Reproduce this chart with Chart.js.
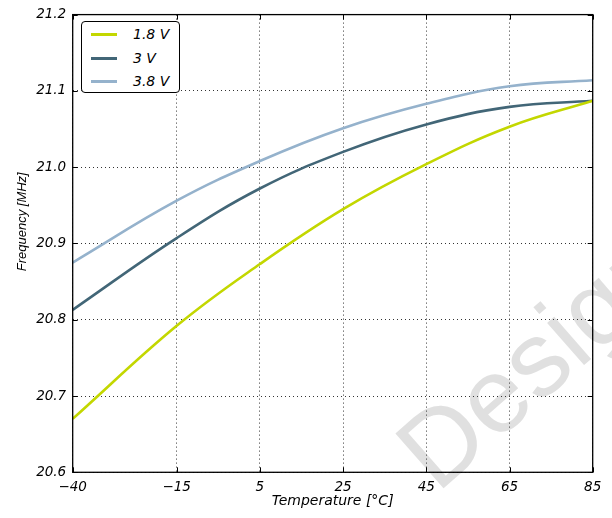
<!DOCTYPE html>
<html>
<head>
<meta charset="utf-8">
<script src="https://cdn.jsdelivr.net/npm/chart.js@4.4.0/dist/chart.umd.min.js"></script>
<style>
body { margin: 0; background: #fff; }
#wrap { position: relative; width: 612px; height: 518px; }
#legende { position: absolute; left: 81px; top: 21px; width: 97px; height: 70px;
  border: 1px solid #000; border-radius: 4px; background: #fff;
  font: italic 14px "DejaVu Sans", sans-serif; color: #000; }
#legende .trait { position: absolute; left: 9px; width: 26px; height: 3px; }
#legende .nom { position: absolute; left: 51px; line-height: 16px; }
</style>
</head>
<body>
<div id="wrap">
  <canvas id="graph" width="612" height="518"></canvas>
  <div id="legende"></div>
</div>
<script>
// valeurs
const temperatures = [-40, -15, 5, 25, 45, 65, 85];
const freq18 = [20.670, 20.792, 20.873, 20.945, 21.004, 21.053, 21.087];
const freq30 = [20.813, 20.907, 20.972, 21.020, 21.056, 21.079, 21.087];
const freq38 = [20.875, 20.956, 21.008, 21.051, 21.083, 21.106, 21.114];
const noms = ['1.8 V', '3 V', '3.8 V'];
const couleurs = ['#c3d700', '#426677', '#95b2cc'];
const xTicks = [-40, -15, 5, 25, 45, 65, 85];
const yTicks = [20.6, 20.7, 20.8, 20.9, 21.0, 21.1, 21.2];

const series = [freq18, freq30, freq38];
const datasets = [];
for (let i = 0; i < series.length; i++) {
    datasets.push({
        label: noms[i],
        data: temperatures.map((t, k) => ({x: t, y: series[i][k]})),
        borderColor: couleurs[i],
        borderWidth: 2.6,
        pointRadius: 0,
        fill: false,
        tension: 0.4
    });
}

// legende en html, dans le cadre en haut a gauche
const legende = document.getElementById('legende');
noms.forEach(function(nom, i) {
    const trait = document.createElement('div');
    trait.className = 'trait';
    trait.style.top = (11 + i * 23.5) + 'px';
    trait.style.background = couleurs[i];
    legende.appendChild(trait);
    const txt = document.createElement('div');
    txt.className = 'nom';
    txt.style.top = (4 + i * 23.5) + 'px';
    txt.textContent = nom;
    legende.appendChild(txt);
});

// cadre + petites graduations vers l'interieur (style matplotlib)
const cadre = {
    id: 'cadre',
    beforeDraw(chart) {
        // filigrane gris, derriere tout le reste
        const ctx = chart.ctx;
        ctx.save();
        ctx.translate(437, 494);
        ctx.rotate(-0.72);
        ctx.font = '106px "Liberation Sans"';
        ctx.fillStyle = '#e0e0e0';
        ctx.fillText('Design', 0, 0);
        ctx.restore();
    },
    afterDraw(chart) {
        const a = chart.chartArea;
        const ctx = chart.ctx;
        const sx = chart.scales.x, sy = chart.scales.y;
        ctx.save();
        ctx.strokeStyle = '#000';
        ctx.lineWidth = 1;
        ctx.beginPath();
        xTicks.forEach(function(v) {
            const px = Math.round(sx.getPixelForValue(v)) + 0.5;
            ctx.moveTo(px, a.bottom); ctx.lineTo(px, a.bottom - 5);
            ctx.moveTo(px, a.top); ctx.lineTo(px, a.top + 5);
        });
        yTicks.forEach(function(v) {
            const py = Math.round(sy.getPixelForValue(v)) + 0.5;
            ctx.moveTo(a.left, py); ctx.lineTo(a.left + 5, py);
            ctx.moveTo(a.right, py); ctx.lineTo(a.right - 5, py);
        });
        ctx.stroke();
        ctx.lineWidth = 1.3;
        ctx.strokeRect(a.left, a.top, a.right - a.left, a.bottom - a.top);
        ctx.restore();
    }
};

const police = {family: '"DejaVu Sans"', size: 13.5, style: 'italic'};

new Chart(document.getElementById('graph'), {
    type: 'line',
    data: {datasets: datasets},
    options: {
        responsive: false,
        animation: false,
        layout: {padding: {top: 12.7, right: 19.3, bottom: 0, left: 0}},
        plugins: {legend: {display: false}, tooltip: {enabled: false}},
        scales: {
            x: {
                type: 'linear',
                min: -40, max: 85,
                afterBuildTicks: function(scale) { scale.ticks = xTicks.map(v => ({value: v})); },
                afterFit: function(scale) { scale.height = 45.7; },
                ticks: {
                    color: '#000', font: police, padding: 7, maxRotation: 0, autoSkip: false,
                    callback: function(v) { return v < 0 ? '\u2212' + Math.abs(v) : String(v); }
                },
                grid: {color: '#333', lineWidth: 1, drawTicks: false, borderDash: [1, 3]},
                border: {display: false, dash: [1, 3]},
                title: {display: true, text: 'Temperature [°C]', color: '#000',
                        font: {family: '"DejaVu Sans"', size: 14, style: 'italic'}, padding: {top: 0, bottom: 8}}
            },
            y: {
                min: 20.6, max: 21.2,
                afterBuildTicks: function(scale) { scale.ticks = yTicks.map(v => ({value: v})); },
                afterFit: function(scale) { scale.width = 72.7; },
                ticks: {
                    color: '#000', font: police, padding: 6.5,
                    callback: function(v) { return Number(v).toFixed(1); }
                },
                grid: {color: '#333', lineWidth: 1, drawTicks: false, borderDash: [1, 3]},
                border: {display: false, dash: [1, 3]},
                // espaces insecables au debut : le titre est un peu decale vers le haut sur l'original
                title: {display: true, text: '\u00a0'.repeat(12) + 'Frequency [MHz]', color: '#000',
                        font: {family: '"Liberation Sans"', size: 13, style: 'italic'}, padding: {top: 15, bottom: 0}}
            }
        }
    },
    plugins: [cadre]
});
</script>
</body>
</html>
